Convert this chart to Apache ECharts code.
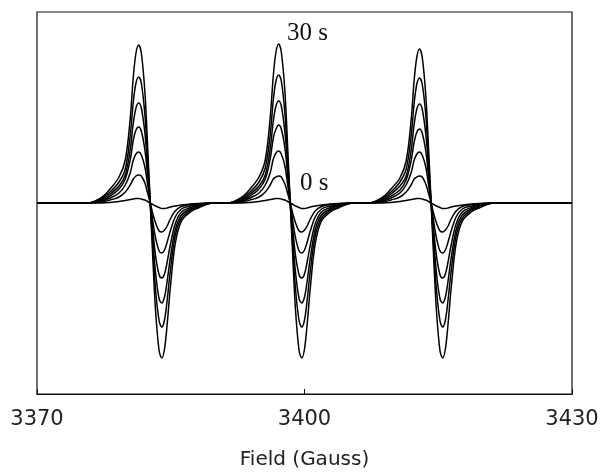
<!DOCTYPE html>
<html>
<head>
<meta charset="utf-8">
<script src="https://cdn.jsdelivr.net/npm/echarts@6/dist/echarts.min.js"></script>
<style>html,body{margin:0;padding:0;background:#fff;}#c{width:601px;height:474px;}</style>
</head>
<body>
<div id="c"></div>
<script>
// Magnetic field positions (Gauss) of sampled points
const fields1 = [3375.7, 3377.3, 3378.2, 3379.2, 3379.9, 3380.45, 3380.8, 3381.1, 3381.4, 3381.7, 3382.1, 3382.4, 3382.7, 3383.0, 3383.3, 3383.7, 3384.0, 3384.3, 3384.6, 3384.95, 3385.5, 3386.2, 3387.2, 3388.1, 3389.7];
const fields2 = [3391.4, 3393.0, 3393.9, 3394.9, 3395.6, 3396.15, 3396.5, 3396.8, 3397.1, 3397.4, 3397.8, 3398.1, 3398.4, 3398.7, 3399.0, 3399.4, 3399.7, 3400.0, 3400.3, 3400.65, 3401.2, 3401.9, 3402.9, 3403.8, 3405.4];
const fields3 = [3407.2, 3408.8, 3409.7, 3410.7, 3411.4, 3411.95, 3412.3, 3412.6, 3412.9, 3413.2, 3413.6, 3413.9, 3414.2, 3414.5, 3414.8, 3415.2, 3415.5, 3415.8, 3416.1, 3416.45, 3417.0, 3417.7, 3418.7, 3419.6, 3421.2];
const fieldStart = 3370, fieldEnd = 3430;

// EPR signal intensities (arbitrary units) for each time
const sig30 = [0,6,14,26,43,84,126,150,158,150,111,58,0,-57,-108,-148,-155,-146,-121,-85,-41,-18,-9,-5,0,
               0,6,14,26,43,85,127,151,159,151,112,58,0,-57,-108,-148,-155,-146,-121,-85,-41,-18,-9,-5,0,
               0,6,14,25,42,82,123,146,154,146,108,57,0,-57,-108,-148,-155,-146,-121,-85,-41,-18,-9,-5,0];
const sig25 = [0,5,11,21,34,67,101,120,126,120,88,47,0,-46,-87,-118,-124,-117,-97,-68,-33,-15,-7.5,-4,0,
               0,5,11,21,35,68,103,122,128,122,90,47,0,-46,-87,-118,-124,-117,-97,-68,-33,-15,-7.5,-4,0,
               0,5,11,21,34,66,100,119,125,119,88,46,0,-46,-87,-118,-124,-117,-97,-68,-33,-15,-7.5,-4,0];
const sig20 = [0,4,9,17,28,53,80,95,100,95,70,37,0,-37,-70,-96,-100,-94,-78,-55,-27,-12,-6,-3,0,
               0,4,9,17,28,54,82,97,102,97,71,38,0,-37,-70,-96,-100,-94,-78,-55,-27,-12,-6,-3,0,
               0,4,9,17,27,52,79,94,99,94,69,37,0,-37,-70,-96,-100,-94,-78,-55,-27,-12,-6,-3,0];
const sig15 = [0,3,7,14,24,43,63,73,76,72,53,28,0,-28,-53,-72,-75,-71,-59,-42,-21,-9,-4.5,-2,0,
               0,3,7,14,24,44,65,74,78,74,55,29,0,-28,-53,-72,-75,-71,-59,-42,-21,-9,-4.5,-2,0,
               0,3,7,13,23,42,61,71,74,70,52,27,0,-28,-53,-72,-75,-71,-59,-42,-21,-9,-4.5,-2,0];
const sig10 = [0,2,5,10,18,30,43,49,51,48,36,19,0,-19,-35,-48,-50,-47,-39,-28,-14,-6,-3,-1.5,0,
               0,2,5,10,18,30,44,50,52,49,37,19,0,-19,-35,-48,-50,-47,-39,-28,-14,-6,-3,-1.5,0,
               0,2,5,10,18,30,43,49,51,48,36,19,0,-19,-35,-48,-50,-47,-39,-28,-14,-6,-3,-1.5,0];
const sig5  = [0,1,3,6,11,18,24,27,28,27,20,10,0,-11,-20,-28,-29,-27,-23,-16,-8,-3.5,-1.5,-1,0,
               0,1,3,6,11,18,24,26,27,26,19,10,0,-11,-20,-28,-29,-27,-23,-16,-8,-3.5,-1.5,-1,0,
               0,1,3,6,11,18,24,26,27,26,19,10,0,-11,-20,-28,-29,-27,-23,-16,-8,-3.5,-1.5,-1,0];
const sig0  = [0,0,0.5,1.5,2.5,3.5,4,4.5,4.5,4,3,1.5,0,-1.5,-3,-4.5,-5.5,-5.5,-5,-4,-3,-2,-1,-0.5,0,
               0,0,0.5,1.5,2.5,3.5,4,4.5,4.5,4,3,1.5,0,-1.5,-3,-4.5,-5.5,-5.5,-5,-4,-3,-2,-1,-0.5,0,
               0,0,0.5,1.5,2.5,3.5,4,4.5,4.5,4,3,1.5,0,-1.5,-3,-4.5,-5.5,-5.5,-5,-4,-3,-2,-1,-0.5,0];

const tickValues = [3370, 3400, 3430];
const axisTitle = 'Field (Gauss)';
const topLabel = '30 s';
const bottomLabel = '0 s';

const allFields = [fieldStart].concat(fields1, fields2, fields3, [fieldEnd]);
function toData(sig) {
  const vals = [0].concat(sig, [0]);
  return allFields.map((f, i) => [f, vals[i]]);
}
const traces = [sig0, sig5, sig10, sig15, sig20, sig25, sig30];

const chart = echarts.init(document.getElementById('c'), null, {renderer: 'canvas'});
chart.setOption({
  animation: false,
  backgroundColor: '#fff',
  grid: {left: 37, right: 29, top: 12, bottom: 80, outerBoundsMode: 'none', containLabel: false,
         show: true, borderColor: '#111', borderWidth: 1.2, backgroundColor: 'transparent'},
  xAxis: {
    type: 'value', min: fieldStart, max: fieldEnd,
    name: axisTitle, nameLocation: 'middle', nameGap: 56,
    nameTextStyle: {fontFamily: 'DejaVu Sans', fontSize: 20, color: '#222'},
    axisLine: {show: true, onZero: false, lineStyle: {color: '#111', width: 1.2}},
    axisTick: {show: true, inside: true, length: 5, customValues: tickValues, lineStyle: {color: '#111'}},
    axisLabel: {customValues: tickValues, fontFamily: 'DejaVu Sans', fontSize: 21, color: '#222', margin: 15,
                formatter: v => String(v), showMinLabel: true, showMaxLabel: true},
    splitLine: {show: false}
  },
  yAxis: {
    type: 'value', min: -191, max: 191,
    axisLine: {show: false}, axisTick: {show: false}, axisLabel: {show: false}, splitLine: {show: false}
  },
  graphic: [
    {type: 'text', left: 287, top: 21, style: {text: topLabel, font: '25px "Liberation Serif"', fill: '#111'}},
    {type: 'text', left: 300, top: 171, style: {text: bottomLabel, font: '25px "Liberation Serif"', fill: '#111'}}
  ],
  series: traces.map(s => ({
    type: 'line', data: toData(s), smooth: 0.35, symbol: 'none',
    lineStyle: {color: '#000', width: 1.5}
  }))
});
</script>
</body>
</html>
